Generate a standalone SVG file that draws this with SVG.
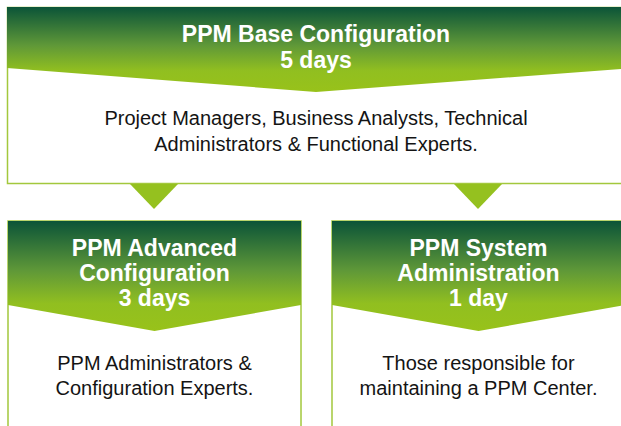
<svg xmlns="http://www.w3.org/2000/svg" width="621" height="426" viewBox="0 0 621 426">
  <defs>
    <linearGradient id="hdr" x1="0" y1="0" x2="0" y2="1">
      <stop offset="0" stop-color="#0b5438"/>
      <stop offset="0.45" stop-color="#5f9838"/>
      <stop offset="0.75" stop-color="#91bf20"/>
      <stop offset="1" stop-color="#98c21a"/>
    </linearGradient>
    <style>
      .box { fill: #ffffff; stroke: #a3c83c; stroke-width: 1.5; }
      .hdr { fill: url(#hdr); }
      .title { font-family: "Liberation Sans", Arial, sans-serif; font-weight: bold; font-size: 23px; fill: #ffffff; text-anchor: middle; }
      .body { font-family: "Liberation Sans", Arial, sans-serif; font-size: 20px; fill: #141414; text-anchor: middle; }
      .arrow { fill: #95c11f; }
    </style>
  </defs>

  <g id="base">
    <rect class="box" x="7.5" y="7.5" width="625" height="176"/>
    <polygon class="hdr" points="7,7 633,7 633,68 316,92 7,68"/>
    <text class="title" x="316" y="42">PPM Base Configuration</text>
    <text class="title" x="316" y="68">5 days</text>
    <text class="body" x="316" y="125">Project Managers, Business Analysts, Technical</text>
    <text class="body" x="316" y="151">Administrators &amp; Functional Experts.</text>
  </g>

  <g id="connectors">
    <polygon class="arrow" points="130,184 178,184 154,209"/>
    <polygon class="arrow" points="454,184 502,184 478,209"/>
  </g>

  <g id="advanced">
    <rect class="box" x="8" y="221" width="293" height="230"/>
    <polygon class="hdr" points="8,221 301,221 301,305 154.5,331 8,305"/>
    <text class="title" x="154.5" y="256">PPM Advanced</text>
    <text class="title" x="154.5" y="281">Configuration</text>
    <text class="title" x="154.5" y="306">3 days</text>
    <text class="body" x="154.5" y="370">PPM Administrators &amp;</text>
    <text class="body" x="154.5" y="395">Configuration Experts.</text>
  </g>

  <g id="sysadmin">
    <rect class="box" x="332" y="221" width="293" height="230"/>
    <polygon class="hdr" points="332,221 625,221 625,305 478.5,331 332,305"/>
    <text class="title" x="478.5" y="256">PPM System</text>
    <text class="title" x="478.5" y="281">Administration</text>
    <text class="title" x="478.5" y="306">1 day</text>
    <text class="body" x="478.5" y="370">Those responsible for</text>
    <text class="body" x="478.5" y="395">maintaining a PPM Center.</text>
  </g>
</svg>
